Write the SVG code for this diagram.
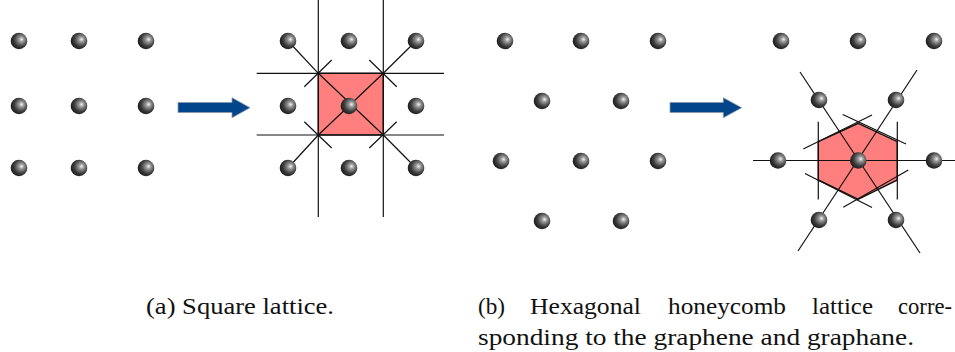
<svg xmlns="http://www.w3.org/2000/svg" width="955" height="352" viewBox="0 0 955 352">
<defs>
<radialGradient id="ball" cx="0.6" cy="0.42" r="0.68" fx="0.66" fy="0.4">
<stop offset="0" stop-color="#f4f4f4"/>
<stop offset="0.22" stop-color="#9a9a9a"/>
<stop offset="0.6" stop-color="#3e3e3e"/>
<stop offset="1" stop-color="#101010"/>
</radialGradient>
</defs>
<style>
.atom{fill:url(#ball);}
.ln{stroke:#111;stroke-width:1.2;fill:none;}
.cell{fill:#ff7f7f;stroke:#111;stroke-width:1.4;}
.arrow{fill:#03458a;stroke:#8a97a8;stroke-width:0.8;}
.cap{font-family:"Liberation Serif","DejaVu Serif","Times New Roman",serif;font-size:24px;fill:#111;}
</style>
<rect width="955" height="352" fill="#fff"/>

<g id="square-lattice">
<circle class="atom" cx="19" cy="41" r="8.3"/>
<circle class="atom" cx="79" cy="41" r="8.3"/>
<circle class="atom" cx="146" cy="41" r="8.3"/>
<circle class="atom" cx="19" cy="106" r="8.3"/>
<circle class="atom" cx="79" cy="106" r="8.3"/>
<circle class="atom" cx="146" cy="106" r="8.3"/>
<circle class="atom" cx="19" cy="168" r="8.3"/>
<circle class="atom" cx="79" cy="168" r="8.3"/>
<circle class="atom" cx="146" cy="168" r="8.3"/>
</g>

<g id="arrow-a">
<path class="arrow" d="M178,102.5 H232 V97.7 L250,107.7 L232,117.7 V112.5 H178 Z"/>
</g>

<g id="square-cell">
<rect class="cell" x="318.3" y="73.3" width="65" height="61.7"/>
<g class="ln">
<line x1="318.3" y1="0" x2="318.3" y2="217"/>
<line x1="383.3" y1="0" x2="383.3" y2="217"/>
<line x1="256.7" y1="73.3" x2="444" y2="73.3"/>
<line x1="256.7" y1="135" x2="444" y2="135"/>
<polyline points="288,41 318.3,73.3 383.3,135 416,168"/>
<polyline points="416,41 383.3,73.3 318.3,135 288,168"/>
<line x1="304.3" y1="86.7" x2="331.7" y2="60"/>
<line x1="369.3" y1="60" x2="396.7" y2="86.7"/>
<line x1="304.3" y1="121.7" x2="331.7" y2="148"/>
<line x1="369.3" y1="148" x2="396.7" y2="121.7"/>
</g>
<circle class="atom" cx="288" cy="41" r="8.3"/>
<circle class="atom" cx="349" cy="41" r="8.3"/>
<circle class="atom" cx="416" cy="41" r="8.3"/>
<circle class="atom" cx="288" cy="106" r="8.3"/>
<circle class="atom" cx="349" cy="106" r="8.3"/>
<circle class="atom" cx="416" cy="106" r="8.3"/>
<circle class="atom" cx="288" cy="168" r="8.3"/>
<circle class="atom" cx="349" cy="168" r="8.3"/>
<circle class="atom" cx="416" cy="168" r="8.3"/>
</g>

<g id="hex-lattice">
<circle class="atom" cx="505" cy="41" r="8.3"/>
<circle class="atom" cx="581" cy="41" r="8.3"/>
<circle class="atom" cx="658" cy="41" r="8.3"/>
<circle class="atom" cx="542" cy="101" r="8.3"/>
<circle class="atom" cx="621" cy="101" r="8.3"/>
<circle class="atom" cx="501" cy="161" r="8.3"/>
<circle class="atom" cx="581" cy="161" r="8.3"/>
<circle class="atom" cx="658" cy="161" r="8.3"/>
<circle class="atom" cx="542" cy="221" r="8.3"/>
<circle class="atom" cx="621" cy="221" r="8.3"/>
</g>

<g id="arrow-b">
<path class="arrow" d="M670,102.5 H723.3 V97.7 L741.7,107.7 L723.3,117.7 V112.5 H670 Z"/>
</g>

<g id="hex-cell">
<polygon class="cell" points="858.3,123.3 897.3,141.7 897.3,180 858.3,199.3 818.3,180 818.3,141.7"/>
<g class="ln">
<line x1="753" y1="160.5" x2="955" y2="160.5"/>
<line x1="800" y1="72" x2="920" y2="253"/>
<line x1="917" y1="70" x2="798" y2="251"/>
<line x1="818.3" y1="121.7" x2="818.3" y2="199.5"/>
<line x1="897.3" y1="121.7" x2="897.3" y2="199.5"/>
<line x1="803.3" y1="149" x2="872" y2="115"/>
<line x1="842.7" y1="114.5" x2="906" y2="144"/>
<line x1="805" y1="173.5" x2="872" y2="207.5"/>
<line x1="843.3" y1="207.3" x2="908.3" y2="170"/>
</g>
<circle class="atom" cx="781" cy="41" r="8.3"/>
<circle class="atom" cx="858" cy="41" r="8.3"/>
<circle class="atom" cx="934" cy="41" r="8.3"/>
<circle class="atom" cx="819" cy="100" r="8.3"/>
<circle class="atom" cx="896" cy="100" r="8.3"/>
<circle class="atom" cx="778" cy="160.5" r="8.3"/>
<circle class="atom" cx="858.3" cy="160.5" r="8.3"/>
<circle class="atom" cx="934" cy="160.5" r="8.3"/>
<circle class="atom" cx="819" cy="220" r="8.3"/>
<circle class="atom" cx="896" cy="220" r="8.3"/>
</g>

<g id="captions">
<text class="cap" x="146" y="314" textLength="188" lengthAdjust="spacingAndGlyphs">(a) Square lattice.</text>
<text class="cap" x="478" y="314" textLength="27" lengthAdjust="spacingAndGlyphs">(b)</text>
<text class="cap" x="530" y="314" textLength="111" lengthAdjust="spacingAndGlyphs">Hexagonal</text>
<text class="cap" x="668" y="314" textLength="118" lengthAdjust="spacingAndGlyphs">honeycomb</text>
<text class="cap" x="812" y="314" textLength="61" lengthAdjust="spacingAndGlyphs">lattice</text>
<text class="cap" x="898" y="314" textLength="54" lengthAdjust="spacingAndGlyphs">corre-</text>
<text class="cap" x="478" y="345" textLength="436" lengthAdjust="spacingAndGlyphs">sponding to the graphene and graphane.</text>
</g>
</svg>
